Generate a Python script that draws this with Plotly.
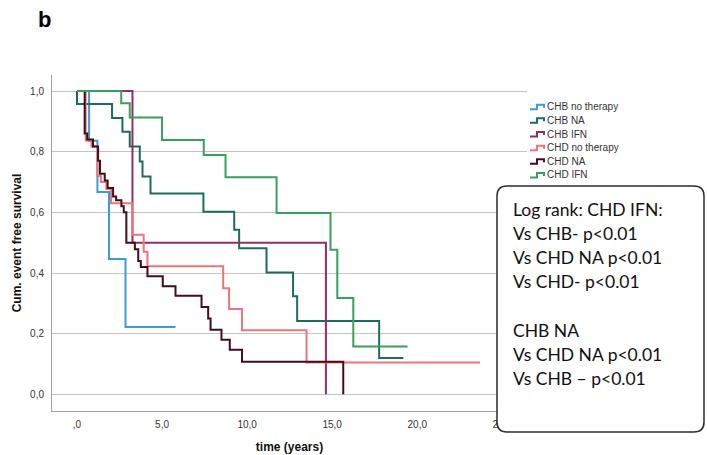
import plotly.graph_objects as go

# ---- data ----
groups = ["CHB no therapy", "CHB NA", "CHB IFN", "CHD no therapy", "CHD NA", "CHD IFN"]
colors = ["#3f9bd8", "#1c6b5f", "#8e2f66", "#f07476", "#420c1c", "#3a9e5c"]

chb_none_t = [0, 0.71, 1.2, 1.88, 2.85, 5.79]
chb_none_s = [1.0, 0.836, 0.667, 0.446, 0.222, 0.222]

chb_na_t = [0, 0.0, 2.06, 2.67, 3.1, 3.69, 3.85, 4.32, 7.43, 9.24, 9.53, 11.14, 12.7, 12.94, 17.76, 19.18]
chb_na_s = [1.0, 0.957, 0.911, 0.866, 0.817, 0.768, 0.718, 0.662, 0.602, 0.543, 0.482, 0.402, 0.323, 0.242, 0.12, 0.12]

chb_ifn_t = [0, 3.26, 14.63]
chb_ifn_s = [1.0, 0.5, 0.0]

chd_none_t = [0, 0.51, 0.85, 1.2, 1.4, 1.73, 2.0, 3.26, 3.92, 4.14, 8.59, 8.94, 9.7, 13.49, 23.69]
chd_none_s = [1.0, 0.837, 0.817, 0.72, 0.70, 0.677, 0.63, 0.526, 0.47, 0.422, 0.35, 0.281, 0.211, 0.105, 0.105]

chd_na_t = [0, 0.45, 0.6, 0.94, 1.24, 1.35, 1.63, 1.8, 2.12, 2.3, 2.61, 2.75, 2.9, 3.4, 3.6, 3.75, 4.14, 5.04, 5.79, 7.32, 7.71, 7.85, 8.49, 8.98, 9.7, 15.65]
chd_na_s = [1.0, 0.86, 0.84, 0.817, 0.77, 0.727, 0.705, 0.68, 0.652, 0.64, 0.62, 0.60, 0.50, 0.478, 0.44, 0.42, 0.389, 0.356, 0.325, 0.288, 0.25, 0.213, 0.18, 0.147, 0.107, 0.0]

chd_ifn_t = [0, 2.6, 3.1, 5.0, 7.45, 8.73, 11.73, 14.9, 15.3, 16.24, 19.43]
chd_ifn_s = [1.0, 0.96, 0.913, 0.839, 0.789, 0.716, 0.598, 0.477, 0.318, 0.158, 0.158]

series_t = [chb_none_t, chb_na_t, chb_ifn_t, chd_none_t, chd_na_t, chd_ifn_t]
series_s = [chb_none_s, chb_na_s, chb_ifn_s, chd_none_s, chd_na_s, chd_ifn_s]

x_tickvals = [0, 5, 10, 15, 20, 25]
x_ticktext = [",0", "5,0", "10,0", "15,0", "20,0", "25,0"]
y_tickvals = [0, 0.2, 0.4, 0.6, 0.8, 1.0]
y_ticktext = ["0,0", "0,2", "0,4", "0,6", "0,8", "1,0"]

box_lines = ["Log rank: CHD IFN:", "Vs CHB- p<0.01", "Vs CHD NA p<0.01", "Vs CHD- p<0.01", "",
             "CHB NA", "Vs CHD NA p<0.01", "Vs CHB \u2013 p<0.01"]

# ---- figure ----
W, H = 707, 455
L, R, T, B = 52, 180, 75, 44
pw, ph = W - L - R, H - T - B

def px_x(p):
    return (p - L) / pw

def px_y(p):
    return (H - B - p) / ph

def P(x, y):
    return f"{px_x(x):.5f},{px_y(y):.5f}"

fig = go.Figure()
for name, col, t, s in zip(groups, colors, series_t, series_s):
    fig.add_trace(go.Scatter(x=t, y=s, mode="lines", name=name, showlegend=False,
                             line=dict(color=col, width=2, shape="hv")))

fig.update_layout(
    width=W, height=H,
    margin=dict(l=L, r=R, t=T, b=B, autoexpand=False),
    paper_bgcolor="white", plot_bgcolor="white",
    font=dict(family="Liberation Sans, Arial", color="#333333"),
    showlegend=False,
)
fig.update_xaxes(range=[-1.47, 26.45], tickvals=x_tickvals, ticktext=x_ticktext,
                 showgrid=False, zeroline=False, showline=True, linecolor="#a0a0a0", linewidth=1,
                 tickfont=dict(size=10, color="#333333"), ticklabelstandoff=4,
                 title=dict(text="<b>time (years)</b>", font=dict(size=12, color="#111111"), standoff=13))
fig.update_yaxes(range=[-0.055, 1.053], tickvals=y_tickvals, ticktext=y_ticktext,
                 showgrid=True, gridcolor="#c4c4c4", gridwidth=1, zeroline=False,
                 showline=True, linecolor="#a0a0a0", linewidth=1,
                 tickfont=dict(size=10, color="#333333"), ticklabelstandoff=5,
                 title=dict(text="<b>Cum. event free survival</b>", font=dict(size=12, color="#111111"), standoff=5))

# manual legend with step-shaped icons
leg_y0, leg_dy = 106.7, 13.65
for i, (name, col) in enumerate(zip(groups, colors)):
    yc = leg_y0 + i * leg_dy
    icon = (f"M {P(530, yc + 2.5)} L {P(537, yc + 2.5)} L {P(537, yc - 2)} "
            f"L {P(544, yc - 2)} L {P(544, yc + 1)}")
    fig.add_shape(type="path", path=icon, xref="paper", yref="paper",
                  line=dict(color=col, width=2))
    fig.add_annotation(text=name, xref="paper", yref="paper", x=px_x(545), y=px_y(yc),
                       xanchor="left", yanchor="middle", showarrow=False,
                       font=dict(size=10, color="#333333", family="Liberation Sans, Arial"))

# panel label
fig.add_annotation(text="<b>b</b>", xref="paper", yref="paper", x=px_x(36), y=px_y(20),
                   xanchor="left", yanchor="middle", showarrow=False,
                   font=dict(size=22, color="#000000", family="Liberation Sans, Arial"))

# rounded text box
x0, x1, y0, y1, r = 497, 704, 186, 432, 10
path = (f"M {P(x0 + r, y0)} L {P(x1 - r, y0)} Q {P(x1, y0)} {P(x1, y0 + r)} "
        f"L {P(x1, y1 - r)} Q {P(x1, y1)} {P(x1 - r, y1)} L {P(x0 + r, y1)} "
        f"Q {P(x0, y1)} {P(x0, y1 - r)} L {P(x0, y0 + r)} Q {P(x0, y0)} {P(x0 + r, y0)} Z")
fig.add_shape(type="path", path=path, xref="paper", yref="paper",
              fillcolor="white", line=dict(color="#2b2b2b", width=1.5), layer="above")

line_y0, line_dy = 209, 24.2
for i, txt in enumerate(box_lines):
    if not txt:
        continue
    fig.add_annotation(text=txt, xref="paper", yref="paper", x=px_x(511), y=px_y(line_y0 + i * line_dy),
                       xanchor="left", yanchor="middle", showarrow=False,
                       font=dict(size=17.5, color="#111111", family="Lato, Liberation Sans"))

fig.write_html("out.html")
